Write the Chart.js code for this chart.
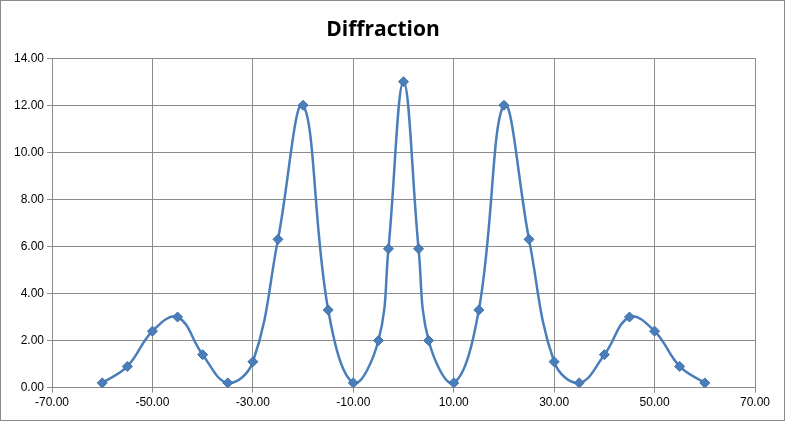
<!DOCTYPE html>
<html>
<head>
<meta charset="utf-8">
<script src="https://cdn.jsdelivr.net/npm/chart.js@4"></script>
<style>
  html, body { margin: 0; padding: 0; background: #fff; }
  #wrap { position: relative; width: 783px; height: 419px; border: 1px solid #8c8c8c; }
</style>
</head>
<body>
<div id="wrap"><canvas id="chart"></canvas></div>
<script>
// angle values and intensity
const angles = [-60, -55, -50, -45, -40, -35, -30, -25, -20, -15, -10, -5, -3, 0, 3, 5, 10, 15, 20, 25, 30, 35, 40, 45, 50, 55, 60];
const intensity = [0.2, 0.9, 2.4, 3.0, 1.4, 0.2, 1.1, 6.3, 12.0, 3.3, 0.2, 2.0, 5.9, 13.0, 5.9, 2.0, 0.2, 3.3, 12.0, 6.3, 1.1, 0.2, 1.4, 3.0, 2.4, 0.9, 0.2];

const points = angles.map((x, i) => ({ x, y: intensity[i] }));

new Chart(document.getElementById('chart'), {
  type: 'scatter',
  data: {
    datasets: [{
      data: points,
      showLine: true,
      borderColor: '#4a7ebb',
      borderWidth: 2.5,
      tension: 0.4,
      pointStyle: 'rectRot',
      pointRadius: 5,
      pointBackgroundColor: '#4a7ebb',
      pointBorderColor: '#3f6fa8',
      pointBorderWidth: 1,
    }],
  },
  options: {
    responsive: true, maintainAspectRatio: false, animation: false,
    layout: { padding: { left: 10, right: 29, top: 4, bottom: 7 } },
    plugins: {
      legend: { display: false },
      tooltip: { enabled: false },
      title: {
        display: true, text: 'Diffraction', color: '#000',
        font: { family: 'Open Sans', size: 21, weight: 'bold' },
        padding: { top: 12, bottom: 16 },
      },
    },
    scales: {
      x: {
        type: 'linear', min: -70, max: 70,
        ticks: { stepSize: 20, color: '#000', font: { family: 'Liberation Sans', size: 12 }, callback: v => v.toFixed(2) },
        grid: { color: '#8c8c8c', drawTicks: true, tickLength: 5 },
        border: { color: '#8c8c8c' },
      },
      y: {
        min: 0, max: 14,
        ticks: { stepSize: 2, color: '#000', font: { family: 'Liberation Sans', size: 12 }, callback: v => v.toFixed(2) },
        grid: { color: '#8c8c8c', tickLength: 5 },
        border: { color: '#8c8c8c' },
      },
    },
  },
});
</script>
</body>
</html>
